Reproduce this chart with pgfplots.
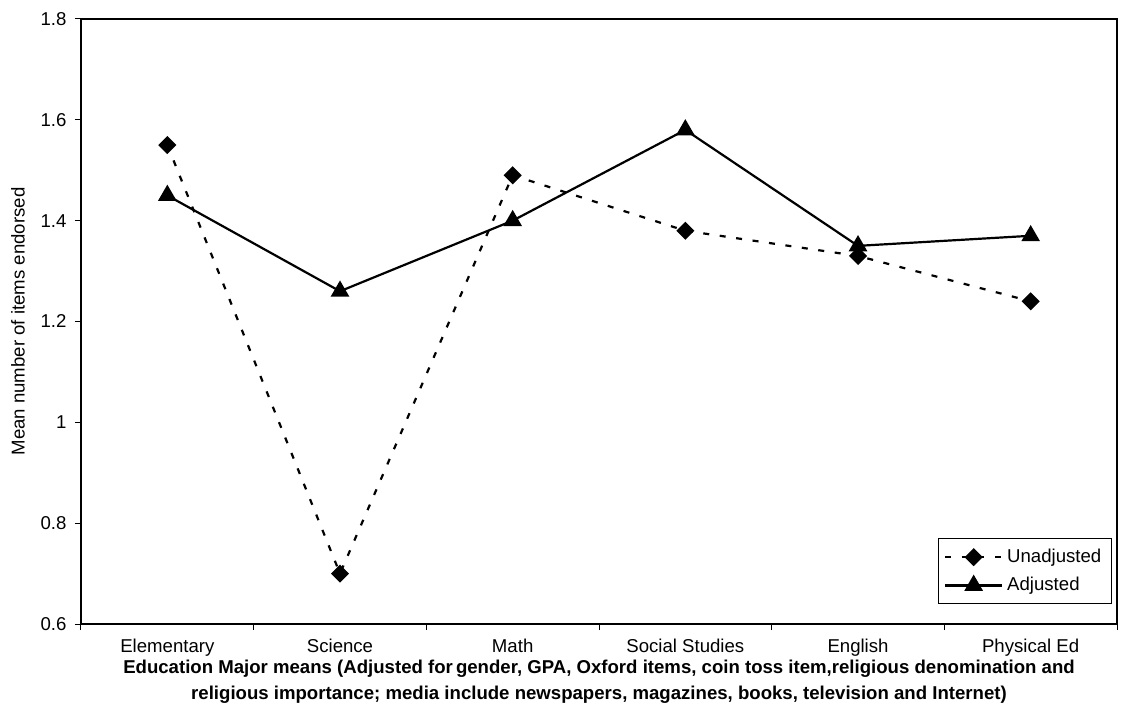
\documentclass[border=0pt]{standalone}
\usepackage{fontspec}
\setmainfont{Liberation Sans}
\usepackage{pgfplots}
\pgfplotsset{compat=1.18}
\begin{document}
\fontsize{9.3}{11}\selectfont
\begin{tikzpicture}
\begin{axis}[
  scale only axis, width=518pt, height=302.5pt,
  xmin=-0.5, xmax=5.5, ymin=0.6, ymax=1.8,
  axis line style={line width=0.6pt},
  xtick={0,1,2,3,4,5},
  xticklabels={Elementary,Science,Math,Social Studies,English,Physical Ed},
  major x tick style={draw=none},
  minor xtick={-0.5,0.5,1.5,2.5,3.5,4.5,5.5},
  ytick={0.6,0.8,1,1.2,1.4,1.6,1.8},
  yticklabels={0.6,0.8,1,1.2,1.4,1.6,1.8},
  tick align=outside, tick pos=left,
  major tick length=3pt, minor tick length=3pt,
  tick style={black, line width=0.5pt},
  ticklabel style={font=\fontsize{9.3}{11}\selectfont},
  /pgf/number format/assume math mode=true,
  xticklabel style={yshift=-1pt},
  yticklabel style={xshift=-1pt},
  ylabel={Mean number of items endorsed},
  ylabel style={font=\fontsize{9.3}{11}\selectfont, yshift=1.5pt},
  xlabel={\textbf{Education Major means (Adjusted for\,gender, GPA, Oxford items, coin toss item,religious denomination and}\\\textbf{religious importance; media include newspapers, magazines, books, television and Internet)}},
  xlabel style={align=center, font=\fontsize{9.3}{13}\selectfont, yshift=4.5pt},
  legend style={at={(0.995,0.033)}, anchor=south east, draw=black, line width=0.5pt,
    font=\fontsize{9.3}{11}\selectfont, cells={anchor=west}, inner sep=3pt, row sep=2pt},
  legend image code/.code={\draw[mark repeat=2, mark phase=2, #1] plot coordinates {(0cm,0cm) (0.5cm,0cm) (1cm,0cm)};},
]
\addplot[black, line width=1.1pt, dash pattern=on 3pt off 5.3pt, mark=square*, mark size=2.65pt, mark options={solid, rotate=45}]
  coordinates {(0,1.55) (1,0.70) (2,1.49) (3,1.38) (4,1.33) (5,1.24)};
\addlegendentry{Unadjusted}
\addplot[black, line width=1.1pt, mark=triangle*, mark size=4.3pt, mark options={solid}]
  coordinates {(0,1.45) (1,1.26) (2,1.40) (3,1.58) (4,1.35) (5,1.37)};
\addlegendentry{Adjusted}
\end{axis}
\pgfresetboundingbox
\path (-40.5pt,-43.5pt) rectangle (531pt,312pt);
\end{tikzpicture}
\end{document}
